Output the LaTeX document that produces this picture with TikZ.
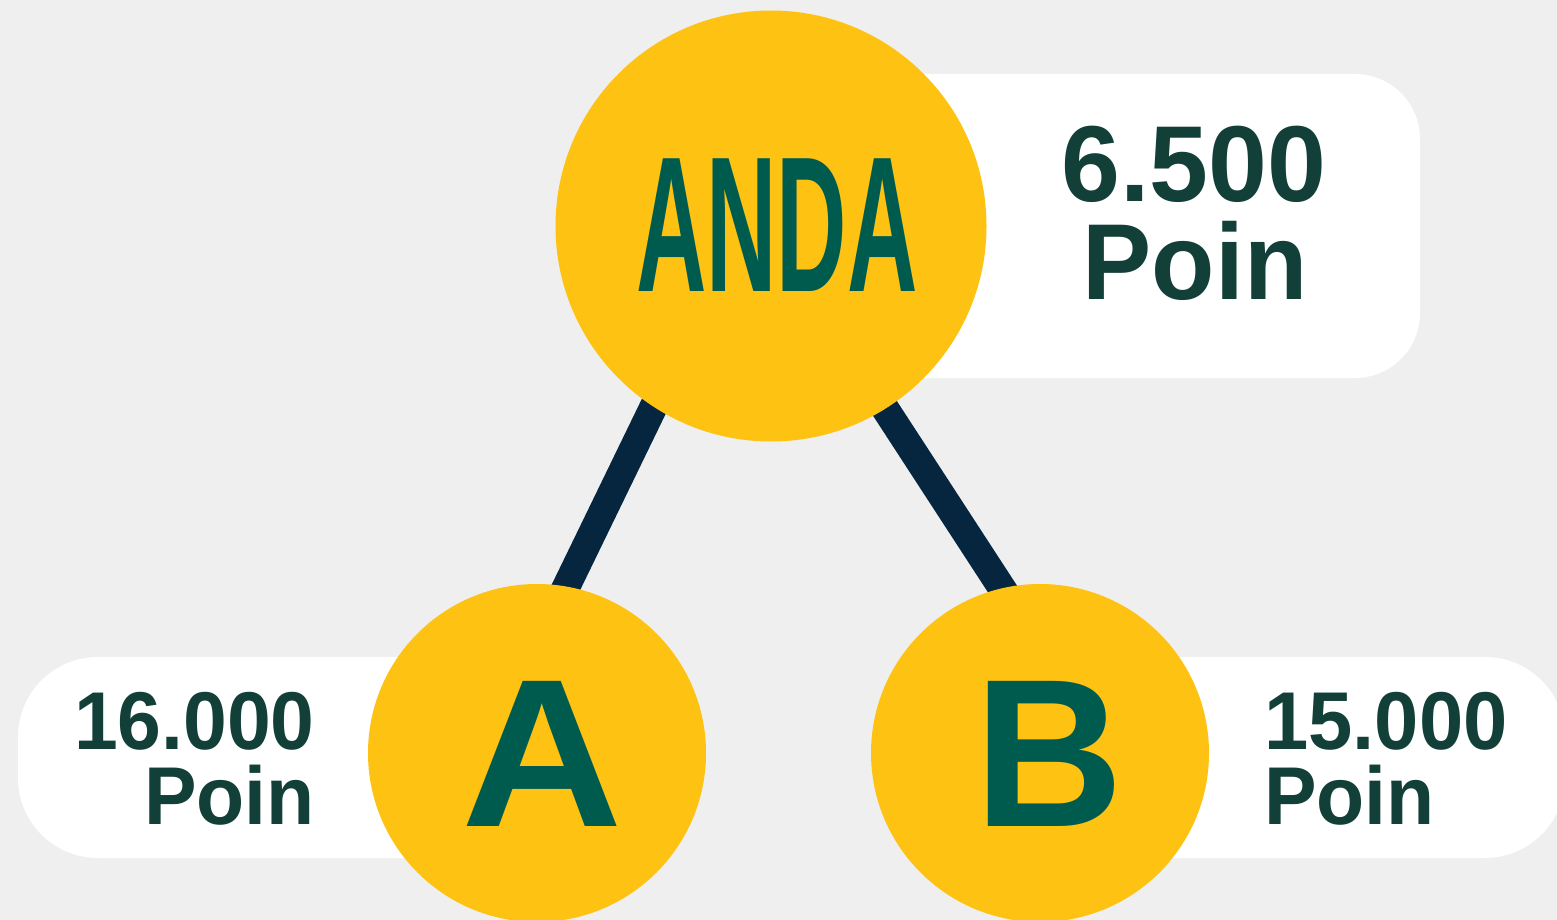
\documentclass[tikz,border=0pt]{standalone}
\usepackage{fontspec}
\setmainfont{Liberation Sans}
\usetikzlibrary{backgrounds}
\definecolor{bgc}{HTML}{EFEFEF}
\definecolor{yel}{HTML}{FEC312}
\definecolor{teal}{HTML}{005B4F}
\definecolor{numc}{HTML}{123F38}
\definecolor{navy}{HTML}{06263F}
\begin{document}
\begin{tikzpicture}[x=1pt,y=-1pt,
  disc/.style={circle,fill=yel,inner sep=0pt},
  letter/.style={inner sep=0pt,text=teal,font=\bfseries,anchor=base},
  bigtxt/.style={inner sep=0pt,text=numc,font=\fontsize{108}{108}\selectfont\bfseries},
  smalltxt/.style={inner sep=0pt,text=numc,font=\fontsize{82}{82}\selectfont\bfseries},
  link/.style={draw=navy,line width=28pt,shorten <=-25pt,shorten >=-25pt},
  card/.style={fill=white}]
\useasboundingbox (0,0) rectangle (1557,920);
\node[disc,minimum size=431pt] (top) at (771,226) {};
\node[disc,minimum size=338pt] (A) at (537,753) {};
\node[disc,minimum size=338pt] (B) at (1040,753) {};
\node[letter] (topl) at (777,291) {\scalebox{0.505}[1]{\fontsize{193}{193}\selectfont ANDA}};
\node[letter] (Al) at (542,826) {\scalebox{1.06}[1]{\fontsize{211}{211}\selectfont A}};
\node[letter] (Bl) at (1049,826) {\scalebox{0.98}[1]{\fontsize{211}{211}\selectfont B}};
\node[bigtxt,anchor=base] (tn) at (1194,201) {\scalebox{0.98}[1]{6.500}};
\node[bigtxt,anchor=base] (tp) at (1195,299) {\scalebox{0.96}[1]{Poin}};
\node[smalltxt,anchor=base east] (an) at (315,749) {\scalebox{0.96}[1]{16.000}};
\node[smalltxt,anchor=base east] (ap) at (315,824) {\scalebox{0.96}[1]{Poin}};
\node[smalltxt,anchor=base west] (bn) at (1264,749) {\scalebox{0.97}[1]{15.000}};
\node[smalltxt,anchor=base west] (bp) at (1264,824) {\scalebox{0.96}[1]{Poin}};
\begin{scope}[on background layer]
\fill[bgc] (0,0) rectangle (1557,920);
\fill[card,rounded corners=65pt] (771,74) rectangle (1420,378);
\fill[card,rounded corners=80pt] (18,657) rectangle (537,858);
\fill[card,rounded corners=80pt] (1040,657) rectangle (1565,858);
\draw[link] (top.237) -- (A.80);
\draw[link] (top.302) -- (B.103);
\end{scope}
\end{tikzpicture}
\end{document}
